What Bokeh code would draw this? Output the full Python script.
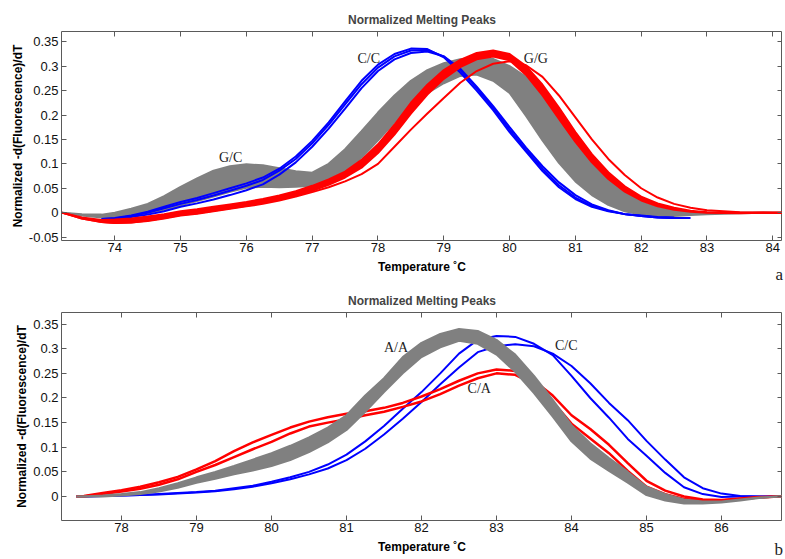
from bokeh.plotting import figure
from bokeh.layouts import column
from bokeh.models import LinearAxis, FixedTicker, CustomJSTickFormatter, Range1d, Label, Div
from bokeh.embed import file_html
from bokeh.resources import INLINE

nan = float("nan")

TITLE = "Normalized Melting Peaks"
XLABEL = "Temperature \u02daC"
YLABEL = "Normalized -d(Fluorescence)/dT"
PANEL_TAGS = ["a", "b"]

# ---------------- panel a ----------------
temp_a = [73.2, 73.5, 73.8, 74.0, 74.25, 74.5, 74.75, 75.0, 75.25, 75.5, 75.75, 76.0, 76.25, 76.5,
          76.75, 77.0, 77.25, 77.5, 77.75, 78.0, 78.25, 78.5, 78.75, 79.0, 79.25, 79.5, 79.75, 80.0,
          80.25, 80.5, 80.75, 81.0, 81.25, 81.5, 81.75, 82.0, 82.25, 82.5, 82.75, 83.0, 83.5, 84.0, 84.2]

gc_upper = [0.0, -0.003, -0.004, 0.000, 0.008, 0.018, 0.034, 0.053, 0.070, 0.086, 0.095, 0.099, 0.097, 0.091,
            0.085, 0.082, 0.100, 0.130, 0.167, 0.205, 0.240, 0.270, 0.292, 0.306, 0.314, 0.318, 0.315, 0.300,
            0.278, 0.245, 0.205, 0.160, 0.115, 0.075, 0.045, 0.022, 0.010, 0.004, 0.001, 0.000, 0.000, 0.000, 0.000]
gc_lower = [0.0, -0.006, -0.010, -0.010, -0.006, -0.001, 0.006, 0.015, 0.024, 0.033, 0.043, 0.051, 0.053, 0.052,
            0.053, 0.055, 0.065, 0.085, 0.113, 0.148, 0.185, 0.215, 0.245, 0.265, 0.280, 0.283, 0.270, 0.245,
            0.198, 0.148, 0.102, 0.064, 0.036, 0.016, 0.003, -0.004, -0.007, -0.007, -0.005, -0.003, -0.001, 0.000, 0.000]

gg_upper = [0.0, -0.010, -0.015, -0.014, -0.012, -0.008, -0.003, 0.003, 0.007, 0.012, 0.017, 0.022, 0.028, 0.035,
            0.044, 0.055, 0.068, 0.084, 0.108, 0.140, 0.180, 0.225, 0.262, 0.292, 0.313, 0.327, 0.332, 0.325,
            0.300, 0.262, 0.215, 0.165, 0.120, 0.083, 0.054, 0.033, 0.019, 0.010, 0.004, 0.001, 0.000, 0.000, 0.000]
gg_lower = [0.0, -0.012, -0.019, -0.021, -0.020, -0.016, -0.011, -0.005, -0.001, 0.004, 0.009, 0.014, 0.020, 0.027,
            0.035, 0.045, 0.057, 0.072, 0.092, 0.122, 0.160, 0.203, 0.242, 0.274, 0.298, 0.314, 0.320, 0.312,
            0.282, 0.240, 0.192, 0.145, 0.103, 0.069, 0.043, 0.025, 0.013, 0.006, 0.002, 0.000, -0.001, 0.000, 0.000]
gg_outlier = [0.0, -0.012, -0.019, -0.021, -0.020, -0.017, -0.012, -0.006, -0.002, 0.003, 0.008, 0.013, 0.018, 0.025,
              0.033, 0.042, 0.052, 0.064, 0.079, 0.100, 0.135, 0.170, 0.203, 0.235, 0.266, 0.290, 0.305, 0.310,
              0.302, 0.278, 0.240, 0.195, 0.150, 0.110, 0.077, 0.050, 0.031, 0.018, 0.010, 0.005, 0.001, 0.000, 0.000]

cc_a1 = [nan, nan, -0.013, -0.011, -0.006, 0.002, 0.012, 0.022, 0.030, 0.040, 0.050, 0.060, 0.072, 0.090,
         0.115, 0.147, 0.185, 0.228, 0.270, 0.303, 0.325, 0.336, 0.335, 0.318, 0.287, 0.250, 0.210, 0.165,
         0.125, 0.085, 0.052, 0.028, 0.012, 0.003, -0.003, -0.006, -0.009, -0.010, nan, nan, nan, nan, nan]
cc_a2 = [nan, nan, -0.014, -0.013, -0.009, -0.004, 0.003, 0.012, 0.019, 0.027, 0.036, 0.046, 0.058, 0.078,
         0.103, 0.135, 0.172, 0.213, 0.255, 0.290, 0.314, 0.327, 0.330, 0.320, 0.295, 0.258, 0.218, 0.175,
         0.133, 0.095, 0.062, 0.036, 0.017, 0.005, -0.003, -0.007, -0.010, -0.011, -0.011, nan, nan, nan, nan]
cc_a3 = [nan, nan, -0.013, -0.012, -0.007, 0.000, 0.009, 0.018, 0.026, 0.035, 0.045, 0.055, 0.067, 0.086,
         0.110, 0.142, 0.180, 0.222, 0.263, 0.297, 0.320, 0.332, 0.333, 0.320, 0.292, 0.255, 0.214, 0.170,
         0.128, 0.090, 0.056, 0.031, 0.014, 0.004, -0.003, -0.007, -0.010, -0.011, nan, nan, nan, nan, nan]

labels_a = ["C/C", "G/G", "G/C"]
labels_a_x = [77.86, 80.4, 75.76]
labels_a_y = [0.315, 0.315, 0.112]
ticks_a_x = [74, 75, 76, 77, 78, 79, 80, 81, 82, 83, 84]
ticks_a_y = [-0.05, 0, 0.05, 0.1, 0.15, 0.2, 0.25, 0.3, 0.35]

# ---------------- panel b ----------------
temp_b = [77.4, 77.5, 77.75, 78.0, 78.25, 78.5, 78.75, 79.0, 79.25, 79.5, 79.75, 80.0, 80.25, 80.5, 80.75,
          81.0, 81.25, 81.5, 81.75, 82.0, 82.25, 82.5, 82.75, 83.0, 83.25, 83.5, 83.75, 84.0, 84.25, 84.5,
          84.75, 85.0, 85.25, 85.5, 85.75, 86.0, 86.25, 86.5, 86.75, 86.87]

aa_upper = [0.0, 0.0, 0.002, 0.005, 0.009, 0.017, 0.027, 0.039, 0.050, 0.062, 0.075, 0.088, 0.103, 0.120, 0.140,
            0.165, 0.205, 0.240, 0.283, 0.312, 0.330, 0.340, 0.336, 0.318, 0.288, 0.245, 0.196, 0.145, 0.108, 0.078,
            0.050, 0.020, 0.005, -0.006, -0.010, -0.010, -0.006, -0.002, 0.0, 0.0]
aa_lower = [0.0, 0.0, 0.0, 0.002, 0.005, 0.010, 0.018, 0.028, 0.036, 0.045, 0.053, 0.062, 0.074, 0.090, 0.110,
            0.135, 0.172, 0.212, 0.250, 0.283, 0.303, 0.316, 0.310, 0.288, 0.253, 0.210, 0.162, 0.112, 0.077, 0.052,
            0.028, 0.003, -0.008, -0.014, -0.014, -0.012, -0.008, -0.003, 0.0, 0.0]

ca_1 = [0.0, 0.001, 0.007, 0.013, 0.020, 0.029, 0.040, 0.055, 0.072, 0.092, 0.110, 0.125, 0.140, 0.152, 0.161,
        0.168, 0.173, 0.180, 0.190, 0.203, 0.218, 0.235, 0.250, 0.258, 0.255, 0.235, 0.205, 0.165, 0.137, 0.105,
        0.068, 0.032, 0.012, 0.0, -0.006, -0.007, -0.004, -0.001, 0.0, 0.0]
ca_2 = [0.0, 0.0, 0.005, 0.010, 0.016, 0.024, 0.035, 0.050, 0.064, 0.080, 0.096, 0.111, 0.128, 0.142, 0.150,
        0.157, 0.165, 0.172, 0.182, 0.193, 0.208, 0.225, 0.240, 0.250, 0.247, 0.228, 0.192, 0.148, 0.118, 0.088,
        0.052, 0.020, 0.005, -0.005, -0.008, -0.008, -0.005, -0.002, 0.0, 0.0]

cc_b1 = [0.0, 0.0, 0.001, 0.002, 0.003, 0.005, 0.007, 0.009, 0.012, 0.017, 0.022, 0.030, 0.039, 0.050, 0.065,
         0.085, 0.112, 0.143, 0.178, 0.212, 0.250, 0.290, 0.318, 0.326, 0.324, 0.310, 0.287, 0.245, 0.200, 0.160,
         0.117, 0.083, 0.048, 0.019, 0.005, -0.001, 0.0, 0.0, 0.0, 0.0]
cc_b2 = [0.0, 0.0, 0.001, 0.002, 0.003, 0.004, 0.006, 0.008, 0.011, 0.015, 0.020, 0.027, 0.035, 0.045, 0.057,
         0.074, 0.097, 0.126, 0.158, 0.192, 0.228, 0.262, 0.293, 0.305, 0.309, 0.305, 0.290, 0.265, 0.230, 0.190,
         0.155, 0.113, 0.075, 0.039, 0.017, 0.006, 0.001, 0.0, 0.0, 0.0]

labels_b = ["A/A", "C/C", "C/A"]
labels_b_x = [81.66, 83.93, 82.77]
labels_b_y = [0.302, 0.306, 0.219]
ticks_b_x = [78, 79, 80, 81, 82, 83, 84, 85, 86]
ticks_b_y = [0, 0.05, 0.1, 0.15, 0.2, 0.25, 0.3, 0.35]

BLUE = "#0000ff"
RED = "#ff0000"
GRAY = "#808080"
FRAME = "#5a5a5a"
SANS = "Liberation Sans"
SERIF = "Liberation Serif"

fmt = CustomJSTickFormatter(code="var s = tick.toFixed(2); s = s.replace(/0+$/, '').replace(/\\.$/, ''); if (s == '-0') s = '0'; return s;")
blank = CustomJSTickFormatter(code="return '';")

FRAME_W = 721


def make_fig(xr, yr, xt, yt, fh, btop, bbot):
    p = figure(frame_width=FRAME_W, frame_height=fh, x_range=Range1d(*xr), y_range=Range1d(*yr),
               output_backend="svg", toolbar_location=None, title=TITLE,
               min_border_left=61, min_border_right=0, min_border_top=btop, min_border_bottom=bbot)
    p.title.align = "center"
    p.title.text_font = SANS
    p.title.text_font_size = "12px"
    p.title.text_font_style = "bold"
    p.title.offset = 0
    p.title.standoff = 10
    p.grid.visible = False
    p.outline_line_color = FRAME
    p.outline_line_width = 1
    p.background_fill_color = "white"
    p.border_fill_color = "white"

    xa = p.xaxis[0]
    xa.ticker = FixedTicker(ticks=xt)
    ya = p.yaxis[0]
    ya.ticker = FixedTicker(ticks=yt)
    ya.formatter = fmt
    for ax in (xa, ya):
        ax.major_tick_in = 5
        ax.major_tick_out = 0
        ax.minor_tick_in = 0
        ax.minor_tick_out = 0
        ax.axis_line_color = None
        ax.major_tick_line_color = FRAME
        ax.major_label_text_font = SANS
        ax.major_label_text_font_size = "13px"
        ax.major_label_text_color = "#111111"
        ax.axis_label_text_font = SANS
        ax.axis_label_text_font_size = "12px"
        ax.axis_label_text_font_style = "bold"
        ax.axis_label_text_color = "black"
    xa.axis_label = XLABEL
    xa.major_label_standoff = 2
    xa.axis_label_standoff = 5
    ya.axis_label = YLABEL
    ya.major_label_standoff = 3
    ya.axis_label_standoff = 1

    ra = LinearAxis(ticker=FixedTicker(ticks=yt), formatter=blank,
                    major_tick_in=5, major_tick_out=0, minor_tick_in=0, minor_tick_out=0,
                    axis_line_color=None, major_tick_line_color=FRAME, major_label_standoff=0)
    ta = LinearAxis(ticker=FixedTicker(ticks=xt), formatter=blank,
                    major_tick_in=5, major_tick_out=0, minor_tick_in=0, minor_tick_out=0,
                    axis_line_color=None, major_tick_line_color=FRAME, major_label_standoff=0)
    p.add_layout(ra, "right")
    p.add_layout(ta, "above")
    return p


def tag_div(tag, top):
    html = ('<span style="position:absolute; right:2px; top:%dpx; font-family:\'Liberation Serif\', serif; '
            'font-size:17px; line-height:17px; color:#222222;">%s</span>' % (top, tag))
    return Div(text=html, width=785, height=0, margin=0,
               styles={"overflow": "visible", "position": "relative", "z-index": "5",
                       "padding": "0", "min-height": "0"})


# panel a
p1 = make_fig((73.19, 73.19 + FRAME_W / 65.8), (-0.057, 0.371), ticks_a_x, ticks_a_y, 209, 31, 40)
p1.varea(x=temp_a, y1=gc_lower, y2=gc_upper, fill_color=GRAY)
p1.line(temp_a, gc_upper, line_color=GRAY, line_width=2)
p1.line(temp_a, gc_lower, line_color=GRAY, line_width=2)
for cy in (cc_a2, cc_a3, cc_a1):
    p1.line(temp_a, cy, line_color=BLUE, line_width=2)
p1.varea(x=temp_a, y1=gg_lower, y2=gg_upper, fill_color=RED)
p1.line(temp_a, gg_upper, line_color=RED, line_width=2)
p1.line(temp_a, gg_lower, line_color=RED, line_width=2)
p1.line(temp_a, gg_outlier, line_color=RED, line_width=2)
for t, lx, ly in zip(labels_a, labels_a_x, labels_a_y):
    p1.add_layout(Label(x=lx, y=ly, text=t, text_font=SERIF, text_font_size="14px",
                        text_align="center", text_baseline="middle", text_color="#222222"))

# panel b
p2 = make_fig((77.2, 77.2 + FRAME_W / 75.0), (-0.0486, 0.3735), ticks_b_x, ticks_b_y, 208, 32, 39)
p2.line(temp_b, cc_b1, line_color=BLUE, line_width=2)
p2.line(temp_b, cc_b2, line_color=BLUE, line_width=2)
p2.line(temp_b, ca_1, line_color=RED, line_width=2.5)
p2.line(temp_b, ca_2, line_color=RED, line_width=2.5)
p2.varea(x=temp_b, y1=aa_lower, y2=aa_upper, fill_color=GRAY)
p2.line(temp_b, aa_upper, line_color=GRAY, line_width=2)
p2.line(temp_b, aa_lower, line_color=GRAY, line_width=2)
for t, lx, ly in zip(labels_b, labels_b_x, labels_b_y):
    p2.add_layout(Label(x=lx, y=ly, text=t, text_font=SERIF, text_font_size="14px",
                        text_align="center", text_baseline="middle", text_color="#222222"))

layout = column(p1, tag_div(PANEL_TAGS[0], -14), p2, tag_div(PANEL_TAGS[1], -18), spacing=0)
open("out.html", "w").write(file_html(layout, INLINE))
